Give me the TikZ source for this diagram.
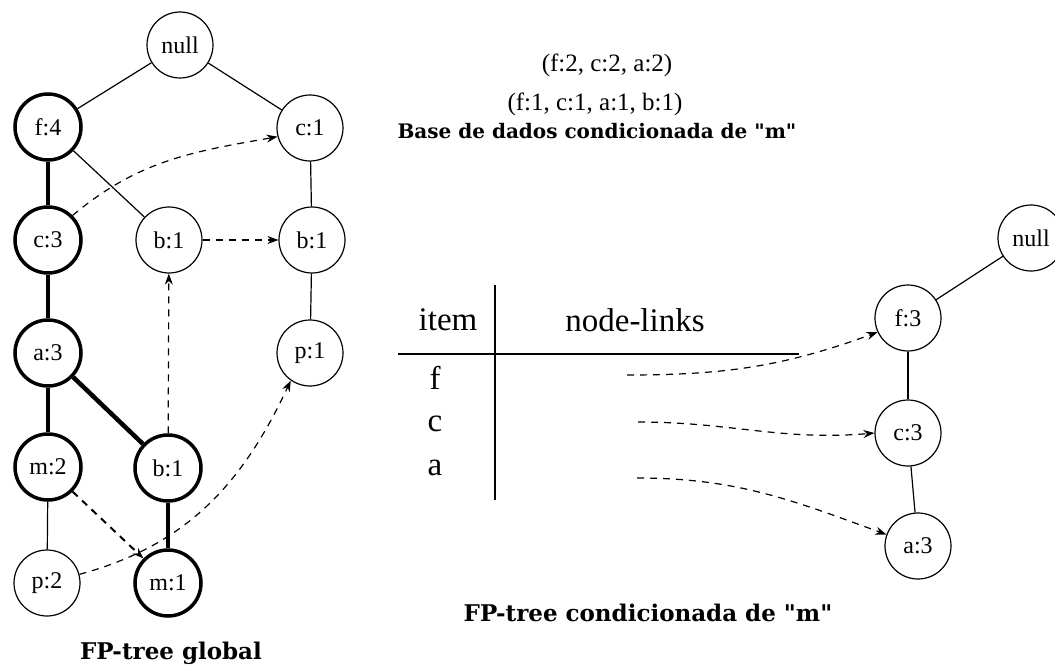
\documentclass[tikz,border=0pt]{standalone}
\usepackage{fontspec}
\setmainfont{Liberation Serif}
\newfontfamily\capfont{DejaVu Serif}
\usetikzlibrary{arrows.meta}
\begin{document}
\begin{tikzpicture}[x=1pt,y=-1pt,
  tnode/.style={circle,draw,line width=1.2pt,minimum size=66pt,inner sep=0pt,
    font=\fontsize{24}{24}\selectfont},
  heavy/.style={tnode,line width=3.5pt},
  edge/.style={line width=1.2pt},
  heavyedge/.style={line width=4.5pt},
  link/.style={dash pattern=on 7pt off 6pt,line width=1.2pt,
    -{Stealth[length=11pt,width=8pt]}},
  caption/.style={font=\capfont\bfseries\fontsize{23}{23}\selectfont},
  plain/.style={font=\fontsize{25}{25}\selectfont},
  tabtext/.style={font=\fontsize{33}{33}\selectfont}]
\useasboundingbox (0,0) rectangle (1055,666);

% global FP-tree
\node[tnode] (null) at (180,45) {null};
\node[heavy] (f4) at (48,127) {f:4};
\node[tnode] (c1) at (310,128) {c:1};
\node[heavy] (c3) at (48,240) {c:3};
\node[tnode] (bm) at (169,240) {b:1};
\node[tnode] (br) at (312,240) {b:1};
\node[heavy] (a3) at (48,353) {a:3};
\node[tnode] (p1) at (310,353) {p:1};
\node[heavy] (m2) at (48,467) {m:2};
\node[heavy] (bb) at (168,468) {b:1};
\node[tnode] (p2) at (47,583) {p:2};
\node[heavy] (m1) at (168,583) {m:1};

\draw[edge] (null) -- (f4);
\draw[edge] (null) -- (c1);
\draw[heavyedge] (f4) -- (c3);
\draw[edge] (f4) -- (bm);
\draw[edge] (c1) -- (br);
\draw[edge] (br) -- (p1);
\draw[heavyedge] (c3) -- (a3);
\draw[heavyedge] (a3) -- (m2);
\draw[heavyedge] (a3) -- (bb);
\draw[edge] (m2) -- (p2);
\draw[heavyedge] (bb) -- (m1);

% node-links of the global tree
\draw[link] (c3.45) to[out=40,in=190] (c1.195);
\draw[link] (bm) -- (br);
\draw[link] (bb) -- (bm);
\draw[link,line width=2pt] (m2.-45) -- (m1.135);
\draw[link] (p2.15) to[out=15,in=245] (p1.235);

\node[caption] (glob) at (171,653) {FP-tree global};

% conditional pattern base
\node[plain] (pb1) at (607,65) {(f:2, c:2, a:2)};
\node[plain] (pb2) at (595,104) {(f:1, c:1, a:1, b:1)};
\node[caption,font=\capfont\bfseries\fontsize{20}{20}\selectfont] (pbt) at (597,131) {Base de dados condicionada de "m"};

% header table
\draw[line width=1.5pt] (495,285) -- (495,500);
\draw[line width=1.5pt] (398,354) -- (799,354);
\node[tabtext] (hitem) at (448,320) {item};
\node[tabtext] (hlinks) at (635,320) {node-links};
\node[tabtext] (itf) at (435,378) {f};
\node[tabtext] (itc) at (435,424) {c};
\node[tabtext] (ita) at (435,468) {a};
\coordinate (lf) at (627,375);
\coordinate (lc) at (638,422);
\coordinate (la) at (637,478);

% conditional FP-tree
\node[tnode] (rnull) at (1031,238) {null};
\node[tnode] (f3) at (908,318) {f:3};
\node[tnode] (rc3) at (908,433) {c:3};
\node[tnode] (ra3) at (918,546) {a:3};
\draw[edge] (rnull) -- (f3);
\draw[edge] (f3) -- (rc3);
\draw[edge] (rc3) -- (ra3);

\draw[link] (lf) to[out=0,in=200] (f3.205);
\draw[link] (lc) to[out=0,in=185] (rc3.180);
\draw[link] (la) to[out=0,in=160] (ra3.160);

\node[caption] (condt) at (648,613) {FP-tree condicionada de "m"};
\end{tikzpicture}
\end{document}
